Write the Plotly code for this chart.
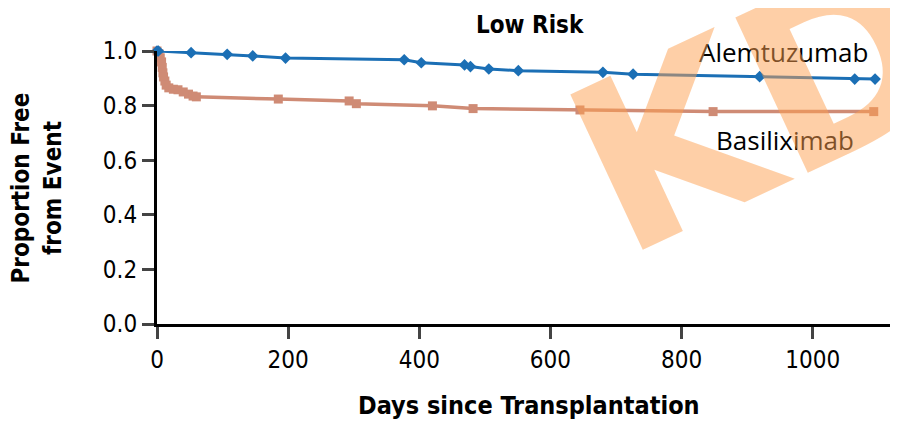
import plotly.graph_objects as go

# Alemtuzumab
alem_days = [0, 2, 52, 107, 146, 196, 377, 403, 469, 478, 506, 551, 680, 726, 919, 1064, 1095]
alem_prop = [1.0, 1.0, 0.994, 0.988, 0.982, 0.974, 0.968, 0.957, 0.949, 0.943, 0.934, 0.928, 0.922, 0.915, 0.906, 0.897, 0.897]

# Basiliximab
basi_days = [0, 3, 5, 7, 8, 9, 10, 12, 14, 18, 25, 32, 40, 48, 55, 60, 185, 293, 304, 420, 482, 645, 848, 1093]
basi_prop = [1.0, 0.99, 0.975, 0.96, 0.94, 0.92, 0.905, 0.89, 0.875, 0.865, 0.86, 0.858, 0.85, 0.842, 0.835, 0.832,
             0.824, 0.817, 0.807, 0.799, 0.789, 0.784, 0.778, 0.778]

x_ticks = [0, 200, 400, 600, 800, 1000]
y_ticks = [0.0, 0.2, 0.4, 0.6, 0.8, 1.0]
y_tick_labels = ["0.0", "0.2", "0.4", "0.6", "0.8", "1.0"]

BLUE = "#1B6FB5"
SALMON = "#CF8B75"
TICKFONT = "DejaVu Sans Condensed"
BOLDFONT = "DejaVu Sans Condensed"

fig = go.Figure()
fig.add_trace(go.Scatter(
    x=basi_days, y=basi_prop, mode="lines+markers",
    line=dict(color=SALMON, width=3.5),
    marker=dict(symbol="square", size=9, color=SALMON),
    cliponaxis=False, showlegend=False))
fig.add_trace(go.Scatter(
    x=alem_days, y=alem_prop, mode="lines+markers",
    line=dict(color=BLUE, width=3),
    marker=dict(symbol="diamond", size=9, color=BLUE),
    cliponaxis=False, showlegend=False))

# page body has an 8px margin, so the figure is 8px smaller and margins shifted accordingly
fig.update_layout(
    width=890, height=415,
    margin=dict(l=149, r=0, t=43, b=99),
    paper_bgcolor="white", plot_bgcolor="white",
    font=dict(family=TICKFONT, color="black"),
    xaxis=dict(range=[0, 1130], tickvals=x_ticks, ticks="outside", ticklen=12, tickwidth=2.5,
               showline=True, linecolor="black", linewidth=3, showgrid=False, zeroline=False,
               tickfont=dict(size=24, family=TICKFONT), fixedrange=True, automargin=False),
    yaxis=dict(range=[0, 1.0], tickvals=y_ticks, ticktext=y_tick_labels, ticks="outside", ticklen=12,
               tickwidth=2.5, showline=True, linecolor="black", linewidth=3, showgrid=False,
               zeroline=False, tickfont=dict(size=24, family=TICKFONT), fixedrange=True, automargin=False),
    annotations=[
        dict(text="<b>Low Risk</b>", xref="paper", yref="paper", x=0.503, y=1.095,
             showarrow=False, font=dict(size=24, family=BOLDFONT), xanchor="center", yanchor="middle"),
        dict(text="<b>Days since Transplantation</b>", xref="paper", yref="paper", x=0.502, y=-0.297,
             showarrow=False, font=dict(size=25, family=BOLDFONT), xanchor="center", yanchor="middle"),
        dict(text="<b>Proportion Free<br>from Event</b>", xref="paper", yref="paper", x=-0.162, y=0.5,
             showarrow=False, font=dict(size=24, family=BOLDFONT), textangle=-90,
             xanchor="center", yanchor="middle"),
        dict(text="Alemtuzumab", xref="x", yref="y", x=955, y=0.996, showarrow=False,
             font=dict(size=26, family="Open Sans"), xanchor="center", yanchor="middle"),
        dict(text="Basiliximab", xref="x", yref="y", x=957, y=0.674, showarrow=False,
             font=dict(size=26, family="Open Sans"), xanchor="center", yanchor="middle"),
        dict(text="<b>KD</b>", xref="paper", yref="paper", x=(759 - 157) / 741, y=(324 - 105) / 273,
             showarrow=False, font=dict(size=235, family="DejaVu Sans", color="rgba(253,160,80,0.5)"),
             textangle=-25, xanchor="center", yanchor="middle"),
    ],
)

fig.write_html("out.html")
